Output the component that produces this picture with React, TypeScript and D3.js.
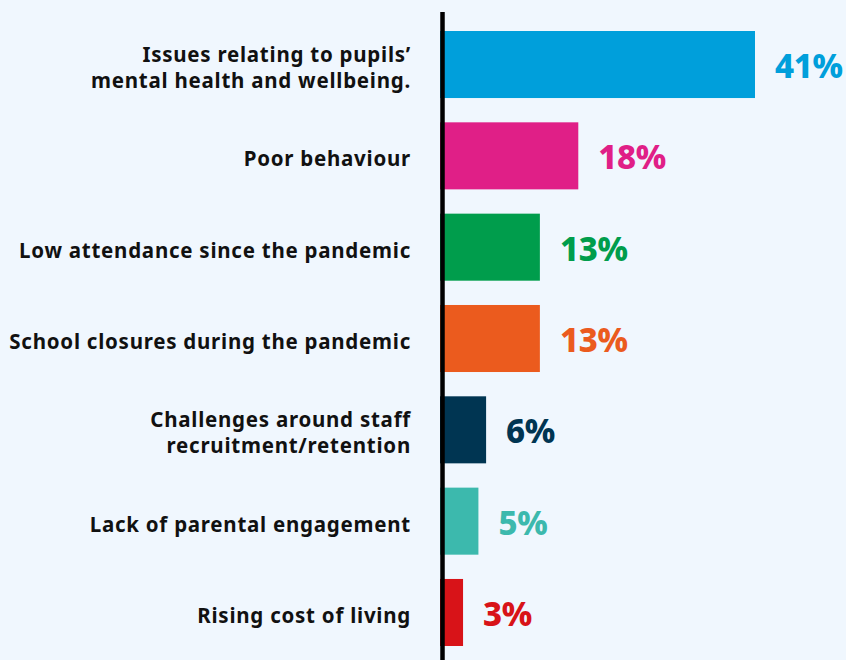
import React from "react";
import * as d3 from "d3";

const categories: string[][] = [
  ["Issues relating to pupils’", "mental health and wellbeing."],
  ["Poor behaviour"],
  ["Low attendance since the pandemic"],
  ["School closures during the pandemic"],
  ["Challenges around staff", "recruitment/retention"],
  ["Lack of parental engagement"],
  ["Rising cost of living"],
];
const values: number[] = [41, 18, 13, 13, 6, 5, 3];
const valueLabels: string[] = ["41%", "18%", "13%", "13%", "6%", "5%", "3%"];
const colors: string[] = ["#009fdb", "#e01f87", "#009d4c", "#eb5b1e", "#003552", "#3cb9ad", "#d81318"];

const W = 846;
const H = 660;
const FONT = "'Noto Sans', 'DejaVu Sans', sans-serif";

export default function App() {
  const x = d3.scaleLinear().domain([0, 41]).range([440, 755]);
  const y = d3
    .scaleBand<number>()
    .domain(d3.range(values.length))
    .range([31, 646])
    .paddingInner(0.266)
    .paddingOuter(0);
  const bw = y.bandwidth();

  return (
    <svg
      width={W}
      height={H}
      style={{ position: "absolute", left: 0, top: 0, background: "#f0f7fe" }}
    >
      <rect x={0} y={0} width={W} height={H} fill="#f0f7fe" />
      {values.map((v, i) => {
        const yy = y(i) as number;
        const cy = yy + bw / 2;
        const lines = categories[i];
        const n = lines.length;
        return (
          <g key={i}>
            <rect x={x(0)} y={yy} width={x(v) - x(0)} height={bw} fill={colors[i]} />
            <text
              x={x(v) + 20}
              y={cy + 13.5}
              fill={colors[i]}
              fontFamily={FONT}
              fontWeight={800}
              fontSize={33}
              letterSpacing={-0.3}
            >
              {valueLabels[i]}
            </text>
            {lines.map((ln, j) => (
              <text
                key={j}
                x={411}
                y={cy + 10.5 + (j - (n - 1) / 2) * 26}
                textAnchor="end"
                fill="#111"
                fontFamily={FONT}
                fontWeight={700}
                fontSize={20.5}
                letterSpacing={0.75}
              >
                {ln}
              </text>
            ))}
          </g>
        );
      })}
      <line x1={442.5} x2={442.5} y1={12} y2={H} stroke="#000" strokeWidth={4.5} />
    </svg>
  );
}
